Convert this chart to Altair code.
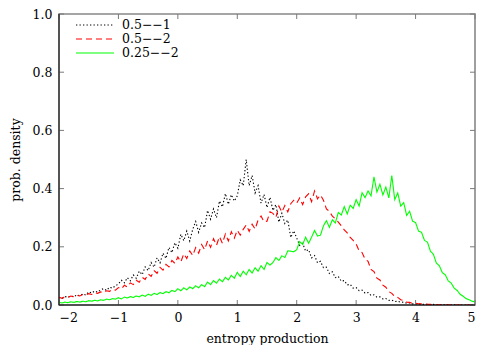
import altair as alt
import numpy as np
import pandas as pd

# histogram bins: start, width, count
x_start, x_step, n_bins = -2.0, 0.05, 141
series_names = ["0.5\u2212\u22121", "0.5\u2212\u22122", "0.25\u2212\u22122"]
series_colors = ["#000000", "#ff0000", "#00ff00"]
series_dash = [[1.3, 2.2], [6, 4], [1, 0]]
series_width = [1.1, 1.1, 1.5]
x_ticks = [-2, -1, 0, 1, 2, 3, 4, 5]
y_ticks = [0.0, 0.2, 0.4, 0.6, 0.8, 1.0]

black = [
    0.026, 0.022, 0.029, 0.027, 0.031, 0.028, 0.035, 0.032, 0.038, 0.034,
    0.045, 0.041, 0.048, 0.044, 0.052, 0.056, 0.050, 0.061, 0.058, 0.066,
    0.072, 0.085, 0.076, 0.094, 0.083, 0.103, 0.092, 0.116, 0.104, 0.131,
    0.118, 0.146, 0.130, 0.162, 0.145, 0.178, 0.160, 0.198, 0.180, 0.214,
    0.195, 0.243, 0.221, 0.254, 0.220, 0.260, 0.287, 0.250, 0.282, 0.266,
    0.325, 0.295, 0.330, 0.300, 0.357, 0.337, 0.383, 0.346, 0.379, 0.357,
    0.375, 0.430, 0.410, 0.500, 0.410, 0.445, 0.385, 0.410, 0.350, 0.380,
    0.335, 0.370, 0.325, 0.345, 0.285, 0.315, 0.280, 0.292, 0.232, 0.255,
    0.230, 0.205, 0.212, 0.185, 0.190, 0.162, 0.170, 0.145, 0.150, 0.128,
    0.130, 0.108, 0.114, 0.094, 0.098, 0.082, 0.084, 0.069, 0.071, 0.058,
    0.060, 0.049, 0.051, 0.041, 0.043, 0.033, 0.035, 0.027, 0.028, 0.021,
    0.022, 0.016, 0.017, 0.012, 0.013, 0.009, 0.010, 0.006, 0.007, 0.004,
    0.004, 0.003, 0.003, 0.002, 0.002, 0.001, 0.002, 0.001, 0.001, 0.0005,
    0.001, 0.0005, 0.0, 0.0005, 0.0, 0.0, 0.0, 0.0, 0.0, 0.0, 0.0,
]

red = [
    0.027, 0.023, 0.029, 0.026, 0.031, 0.028, 0.033, 0.031, 0.036, 0.034,
    0.039, 0.036, 0.042, 0.040, 0.045, 0.043, 0.049, 0.047, 0.053, 0.051,
    0.060, 0.055, 0.068, 0.062, 0.076, 0.070, 0.085, 0.078, 0.095, 0.088,
    0.107, 0.098, 0.118, 0.109, 0.129, 0.120, 0.140, 0.131, 0.153, 0.143,
    0.165, 0.148, 0.176, 0.160, 0.186, 0.170, 0.197, 0.178, 0.208, 0.190,
    0.220, 0.198, 0.228, 0.205, 0.235, 0.212, 0.244, 0.220, 0.252, 0.230,
    0.257, 0.240, 0.260, 0.275, 0.253, 0.278, 0.261, 0.292, 0.306, 0.286,
    0.288, 0.320, 0.315, 0.301, 0.340, 0.319, 0.342, 0.320, 0.348, 0.360,
    0.350, 0.368, 0.345, 0.372, 0.382, 0.355, 0.392, 0.365, 0.378, 0.360,
    0.330, 0.322, 0.305, 0.296, 0.285, 0.272, 0.258, 0.248, 0.232, 0.222,
    0.210, 0.186, 0.180, 0.158, 0.150, 0.122, 0.115, 0.092, 0.086, 0.068,
    0.061, 0.046, 0.040, 0.029, 0.026, 0.018, 0.015, 0.010, 0.009, 0.005,
    0.006, 0.004, 0.004, 0.003, 0.002, 0.002, 0.001, 0.001, 0.001, 0.0005,
    0.0005, 0.0, 0.0005, 0.0, 0.0, 0.0, 0.0, 0.0, 0.0, 0.0, 0.0,
]

green = [
    0.009, 0.007, 0.010, 0.008, 0.011, 0.009, 0.012, 0.010, 0.013, 0.011,
    0.015, 0.013, 0.016, 0.014, 0.018, 0.016, 0.020, 0.018, 0.022, 0.020,
    0.025, 0.021, 0.027, 0.024, 0.029, 0.026, 0.031, 0.028, 0.034, 0.030,
    0.037, 0.033, 0.040, 0.036, 0.043, 0.039, 0.046, 0.042, 0.050, 0.046,
    0.056, 0.049, 0.059, 0.052, 0.062, 0.056, 0.066, 0.059, 0.070, 0.063,
    0.079, 0.070, 0.084, 0.075, 0.089, 0.080, 0.095, 0.086, 0.102, 0.092,
    0.112, 0.098, 0.116, 0.104, 0.122, 0.110, 0.128, 0.116, 0.135, 0.122,
    0.146, 0.137, 0.146, 0.163, 0.153, 0.169, 0.163, 0.186, 0.185, 0.183,
    0.190, 0.218, 0.208, 0.233, 0.212, 0.233, 0.256, 0.237, 0.240, 0.272,
    0.290, 0.267, 0.293, 0.282, 0.318, 0.309, 0.338, 0.313, 0.343, 0.332,
    0.362, 0.340, 0.386, 0.369, 0.392, 0.375, 0.440, 0.388, 0.415, 0.378,
    0.405, 0.368, 0.445, 0.362, 0.385, 0.340, 0.352, 0.308, 0.322, 0.288,
    0.283, 0.254, 0.250, 0.222, 0.216, 0.185, 0.174, 0.144, 0.135, 0.111,
    0.104, 0.083, 0.075, 0.058, 0.050, 0.037, 0.030, 0.022, 0.018, 0.013, 0.011,
]

W, H = 416, 291
TL = 5  # inward tick length (px)

xs = np.round(x_start + x_step * np.arange(n_bins), 2)
rows = []
for order, (name, vals) in enumerate(zip(series_names, [black, red, green])):
    for xv, yv in zip(xs, vals):
        rows.append({"x": float(xv), "y": yv, "series": name, "o": order})
df = pd.DataFrame(rows)

FONT = "DejaVu Serif"
FS = 12.5
TICK = "#7a7a7a"

x_scale = alt.Scale(domain=[x_ticks[0], x_ticks[-1]], nice=False, zero=False)
y_scale = alt.Scale(domain=[y_ticks[0], y_ticks[-1]], nice=False, zero=False)
color_scale = alt.Scale(domain=series_names, range=series_colors)
dash_scale = alt.Scale(domain=series_names, range=series_dash)
width_scale = alt.Scale(domain=series_names, range=series_width)

x_axis = alt.Axis(
    values=x_ticks, format="d", ticks=False, domain=False, grid=False,
    labelFont=FONT, labelFontSize=FS, labelColor="black",
    labelPadding=6, title="entropy production", titleFont=FONT,
    titleFontSize=FS, titleFontWeight="normal", titleColor="black", titlePadding=9)
y_axis = alt.Axis(
    values=y_ticks, format=".1f", ticks=False, domain=False, grid=False,
    labelFont=FONT, labelFontSize=FS, labelColor="black",
    labelPadding=7, title="prob. density", titleFont=FONT,
    titleFontSize=FS, titleFontWeight="normal", titleColor="black", titlePadding=10)

lines = alt.Chart(df).mark_line(clip=True).encode(
    x=alt.X("x:Q", scale=x_scale, axis=x_axis),
    y=alt.Y("y:Q", scale=y_scale, axis=y_axis),
    color=alt.Color("series:N", scale=color_scale, legend=None),
    strokeDash=alt.StrokeDash("series:N", scale=dash_scale, legend=None),
    strokeWidth=alt.StrokeWidth("series:N", scale=width_scale, legend=None),
    order=alt.Order("o:Q"),
)

xt = pd.DataFrame({"x": x_ticks})
yt = pd.DataFrame({"y": y_ticks})
ticks = []
for (a, b) in [(H - TL, H), (0, TL)]:
    ticks.append(alt.Chart(xt).mark_rule(color=TICK, strokeWidth=1).encode(
        x=alt.X("x:Q", scale=x_scale, axis=x_axis), y=alt.value(a), y2=alt.value(b)))
for (a, b) in [(0, TL), (W - TL, W)]:
    ticks.append(alt.Chart(yt).mark_rule(color=TICK, strokeWidth=1).encode(
        y=alt.Y("y:Q", scale=y_scale, axis=y_axis), x=alt.value(a), x2=alt.value(b)))

base_rule = alt.Chart(pd.DataFrame({"y": [y_ticks[0]]})).mark_rule(
    color="black", strokeWidth=1.2).encode(
    y=alt.Y("y:Q", scale=y_scale, axis=y_axis))
left_rule = alt.Chart(pd.DataFrame({"x": [x_ticks[0]]})).mark_rule(
    color="#222222", strokeWidth=1.2).encode(
    x=alt.X("x:Q", scale=x_scale, axis=x_axis))

legend_layers = []
for i, name in enumerate(series_names):
    one = pd.DataFrame({"series": [name]})
    ypix = 11 + 14 * i
    legend_layers.append(alt.Chart(one).mark_rule().encode(
        x=alt.value(17), x2=alt.value(55), y=alt.value(ypix),
        color=alt.Color("series:N", scale=color_scale, legend=None),
        strokeDash=alt.StrokeDash("series:N", scale=dash_scale, legend=None),
        strokeWidth=alt.StrokeWidth("series:N", scale=width_scale, legend=None),
    ))
    legend_layers.append(alt.Chart(one).mark_text(
        align="left", baseline="middle", font=FONT, fontSize=FS, color="black").encode(
        x=alt.value(63), y=alt.value(ypix), text="series:N"))

chart = alt.layer(lines, *ticks, base_rule, left_rule, *legend_layers).properties(
    width=W, height=H,
    padding={"left": 1, "top": 0, "right": 5, "bottom": 0},
).configure_view(stroke="#888888", strokeWidth=1.6).configure_axis(labelFont=FONT)

chart.save("out.html", embed_options={"renderer": "svg", "actions": False})
